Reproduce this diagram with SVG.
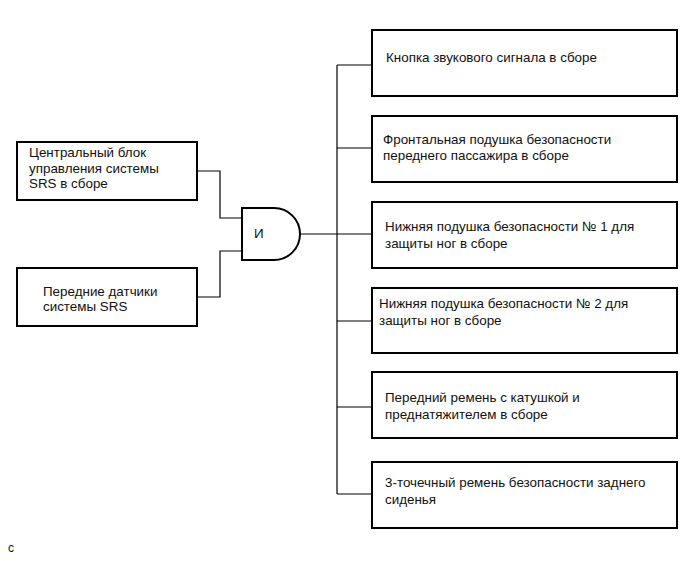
<svg xmlns="http://www.w3.org/2000/svg" width="689" height="561" viewBox="0 0 689 561">
<style>
.box{fill:#fff;stroke:#000;stroke-width:2}
.ln{fill:none;stroke:#000;stroke-width:1.2}
text{font-family:"Liberation Sans",Arial,sans-serif;font-size:13.4px;fill:#111}
</style>
<rect width="689" height="561" fill="#fff"/>
<g id="connectors">
<polyline class="ln" points="197,171 220,171 220,218 242,218"/>
<polyline class="ln" points="197,297 220,297 220,251 242,251"/>
<line class="ln" x1="300" y1="234" x2="337" y2="234"/>
<line class="ln" x1="337" y1="65" x2="337" y2="494"/>
<line class="ln" x1="337" y1="65" x2="372" y2="65"/>
<line class="ln" x1="337" y1="148" x2="372" y2="148"/>
<line class="ln" x1="337" y1="234" x2="372" y2="234"/>
<line class="ln" x1="337" y1="321" x2="372" y2="321"/>
<line class="ln" x1="337" y1="407" x2="372" y2="407"/>
<line class="ln" x1="337" y1="494" x2="372" y2="494"/>
</g>
<g id="srs-ecu">
<rect class="box" x="17" y="142" width="180" height="58"/>
<text x="29" y="157">Центральный блок</text>
<text x="29" y="173">управления системы</text>
<text x="29" y="188">SRS в сборе</text>
</g>
<g id="front-sensors">
<rect class="box" x="17" y="268" width="180" height="58"/>
<text x="43" y="296">Передние датчики</text>
<text x="43" y="311">системы SRS</text>
</g>
<g id="and-gate">
<path class="box" d="M242,208 H274 A26,26 0 0 1 274,260 H242 Z"/>
<text x="254" y="238">И</text>
</g>
<g id="horn-button">
<rect class="box" x="372" y="30" width="305" height="66"/>
<text x="386" y="62">Кнопка звукового сигнала в сборе</text>
</g>
<g id="front-passenger-airbag">
<rect class="box" x="372" y="116" width="305" height="66"/>
<text x="383" y="144">Фронтальная подушка безопасности</text>
<text x="383" y="160">переднего пассажира в сборе</text>
</g>
<g id="knee-airbag-1">
<rect class="box" x="372" y="202" width="305" height="66"/>
<text x="385" y="231">Нижняя подушка безопасности № 1 для</text>
<text x="385" y="248">защиты ног в сборе</text>
</g>
<g id="knee-airbag-2">
<rect class="box" x="372" y="288" width="305" height="65"/>
<text x="379" y="308">Нижняя подушка безопасности № 2 для</text>
<text x="379" y="325">защиты ног в сборе</text>
</g>
<g id="front-belt">
<rect class="box" x="372" y="372" width="305" height="66"/>
<text x="385" y="402">Передний ремень с катушкой и</text>
<text x="385" y="419">преднатяжителем в сборе</text>
</g>
<g id="rear-belt">
<rect class="box" x="372" y="462" width="305" height="66"/>
<text x="385" y="487">3-точечный ремень безопасности заднего</text>
<text x="385" y="504">сиденья</text>
</g>
<text x="8" y="552" style="font-size:12px">с</text>
</svg>
